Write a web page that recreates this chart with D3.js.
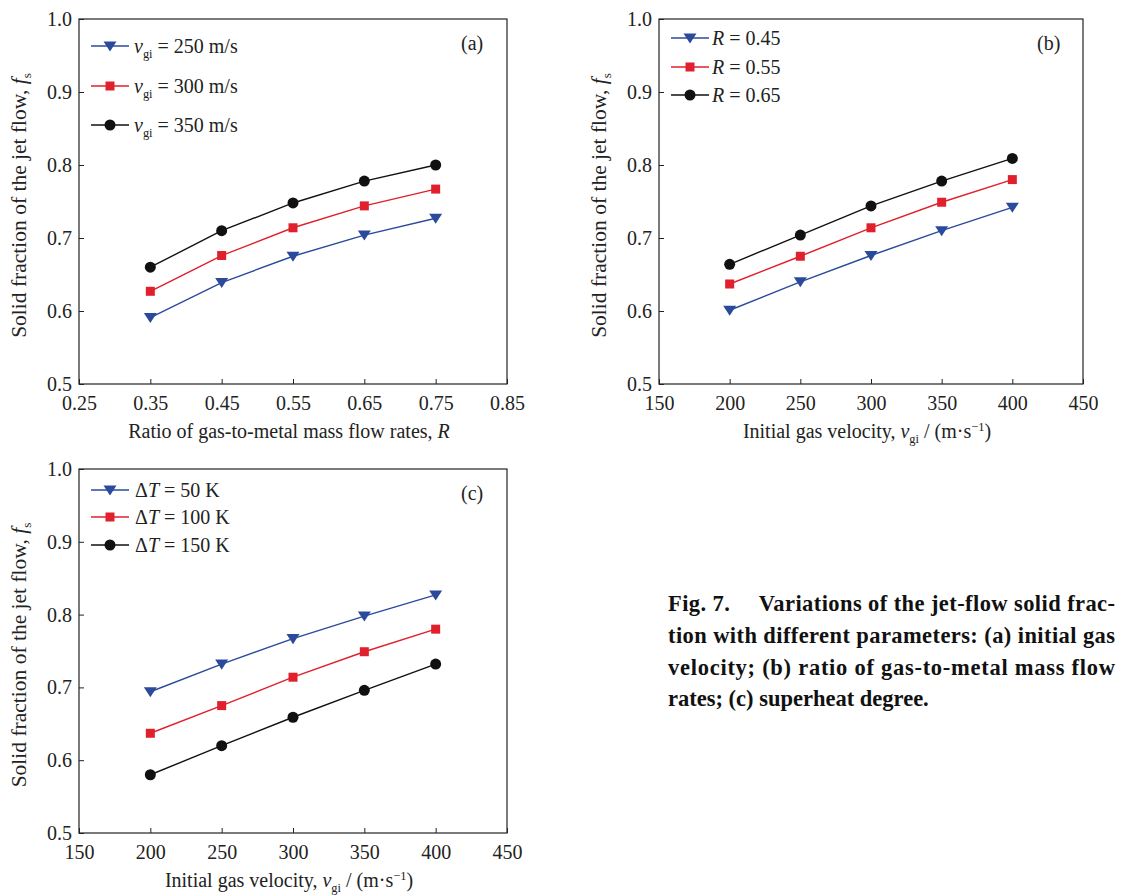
<!DOCTYPE html>
<html><head><meta charset="utf-8">
<script src="https://cdn.jsdelivr.net/npm/d3@7"></script>
<style>body{margin:0;background:#fff}svg{display:block}text{font-family:"Liberation Serif","Times New Roman",serif}</style>
</head><body><svg id="c" width="1146" height="895"></svg>
<script>
// ---- data ----
const xA = [0.35, 0.45, 0.55, 0.65, 0.75];
const aV250 = [0.591, 0.639, 0.675, 0.704, 0.727];
const aV300 = [0.627, 0.676, 0.714, 0.744, 0.767];
const aV350 = [0.660, 0.710, 0.748, 0.778, 0.800];
const xB = [200, 250, 300, 350, 400];
const bR045 = [0.601, 0.640, 0.676, 0.710, 0.742];
const bR055 = [0.637, 0.675, 0.714, 0.749, 0.780];
const bR065 = [0.664, 0.704, 0.744, 0.778, 0.809];
const xC = [200, 250, 300, 350, 400];
const cT50 = [0.694, 0.732, 0.767, 0.798, 0.827];
const cT100 = [0.637, 0.675, 0.714, 0.749, 0.780];
const cT150 = [0.580, 0.620, 0.659, 0.696, 0.732];
const xTicksA = [0.25, 0.35, 0.45, 0.55, 0.65, 0.75, 0.85];
const xTicksB = [150, 200, 250, 300, 350, 400, 450];
const yTicks = [0.5, 0.6, 0.7, 0.8, 0.9, 1.0];

const svg = d3.select("#c");
const BLUE = "#2b4a9c", RED = "#e0202c", BLACK = "#111";

function addLabel(sel, parts, size) {
  parts.forEach(p => {
    const t = sel.append("tspan").text(p.t);
    if (p.i) t.attr("font-style", "italic");
    if (p.sub) t.attr("font-size", size * 0.62).attr("dy", 5);
    if (p.sup) t.attr("font-size", size * 0.62).attr("dy", -7);
    if (p.back) t.attr("dy", p.back);
  });
}

function marker(g, type, x, y, color) {
  if (type === "tri") {
    const s = 6.5;
    g.append("path").attr("d", `M${x - s},${y - s * 0.7}L${x + s},${y - s * 0.7}L${x},${y + s * 0.85}Z`).attr("fill", color);
  } else if (type === "sq") {
    g.append("rect").attr("x", x - 4.5).attr("y", y - 4.5).attr("width", 9).attr("height", 9).attr("fill", color);
  } else {
    g.append("circle").attr("cx", x).attr("cy", y).attr("r", 5.5).attr("fill", color);
  }
}

function panel(cfg) {
  const { left, right, top, bottom } = cfg;
  const x = d3.scaleLinear().domain(cfg.xDomain).range([left, right]);
  const y = d3.scaleLinear().domain([0.5, 1.0]).range([bottom, top]);
  const g = svg.append("g");
  g.append("rect").attr("x", left).attr("y", top).attr("width", right - left).attr("height", bottom - top)
    .attr("fill", "none").attr("stroke", "#222").attr("stroke-width", 1.2);
  const xa = g.append("g").attr("transform", `translate(0,${bottom})`)
    .call(d3.axisTop(x).tickValues(cfg.xTicks).tickSize(5).tickFormat(cfg.xFmt));
  xa.select(".domain").remove();
  xa.selectAll("line").attr("stroke", "#222");
  xa.selectAll("text").attr("y", 12).attr("dy", "0.71em").attr("font-size", 20).attr("fill", "#222");
  const ya = g.append("g").attr("transform", `translate(${left},0)`)
    .call(d3.axisRight(y).tickValues(yTicks).tickSize(5).tickFormat(d3.format(".1f")));
  ya.select(".domain").remove();
  ya.selectAll("line").attr("stroke", "#222");
  ya.selectAll("text").attr("x", -7).attr("text-anchor", "end").attr("font-size", 20).attr("fill", "#222");
  const line = d3.line().x(d => x(d[0])).y(d => y(d[1]));
  cfg.series.forEach(s => {
    const pts = cfg.xs.map((v, i) => [v, s.vals[i]]);
    g.append("path").attr("d", line(pts)).attr("fill", "none").attr("stroke", s.color).attr("stroke-width", 1.4);
    pts.forEach(p => marker(g, s.m, x(p[0]), y(p[1]), s.color));
  });
  cfg.series.forEach((s, i) => {
    const ly = cfg.legY[i];
    g.append("line").attr("x1", left + 12).attr("x2", left + 50).attr("y1", ly).attr("y2", ly)
      .attr("stroke", s.color).attr("stroke-width", 1.4);
    marker(g, s.m, left + 31, ly, s.color);
    const t = g.append("text").attr("x", left + cfg.legTx).attr("y", ly + 7).attr("font-size", 20).attr("fill", "#222");
    addLabel(t, s.label, 20);
  });
  g.append("text").attr("x", right - 46).attr("y", top + 31).attr("font-size", 20).attr("fill", "#222").text(cfg.tag);
  const xt = g.append("text").attr("x", (left + right) / 2 - 4).attr("y", bottom + 54).attr("text-anchor", "middle")
    .attr("font-size", 20).attr("fill", "#222");
  addLabel(xt, cfg.xTitle, 20);
  const yt = g.append("text").attr("transform", `translate(${left - 53},${(top + bottom) / 2 + 4}) rotate(-90)`)
    .attr("text-anchor", "middle").attr("font-size", 21.5).attr("fill", "#222");
  addLabel(yt, [{ t: "Solid fraction of the jet flow, " }, { t: "f", i: 1 }, { t: "s", sub: 1 }], 21.5);
}

const velTitle = [{ t: "Initial gas velocity, " }, { t: "v", i: 1 }, { t: "gi", sub: 1 }, { t: " / (m·s", back: -5 },
  { t: "−1", sup: 1 }, { t: ")", back: 7 }];

panel({
  left: 79, right: 507, top: 19, bottom: 384, xDomain: [0.25, 0.85], xTicks: xTicksA, xFmt: d3.format(".2f"),
  xs: xA, tag: "(a)", legY: [46, 86, 125], legTx: 55,
  xTitle: [{ t: "Ratio of gas-to-metal mass flow rates, " }, { t: "R", i: 1 }],
  series: [
    { vals: aV250, color: BLUE, m: "tri", label: [{ t: "v", i: 1 }, { t: "gi", sub: 1 }, { t: " = 250 m/s", back: -5 }] },
    { vals: aV300, color: RED, m: "sq", label: [{ t: "v", i: 1 }, { t: "gi", sub: 1 }, { t: " = 300 m/s", back: -5 }] },
    { vals: aV350, color: BLACK, m: "circ", label: [{ t: "v", i: 1 }, { t: "gi", sub: 1 }, { t: " = 350 m/s", back: -5 }] }
  ]
});
panel({
  left: 659, right: 1083, top: 19, bottom: 384, xDomain: [150, 450], xTicks: xTicksB, xFmt: d3.format("d"),
  xs: xB, tag: "(b)", legY: [38, 67, 95], legTx: 53, xTitle: velTitle,
  series: [
    { vals: bR045, color: BLUE, m: "tri", label: [{ t: "R", i: 1 }, { t: " = 0.45" }] },
    { vals: bR055, color: RED, m: "sq", label: [{ t: "R", i: 1 }, { t: " = 0.55" }] },
    { vals: bR065, color: BLACK, m: "circ", label: [{ t: "R", i: 1 }, { t: " = 0.65" }] }
  ]
});
panel({
  left: 79, right: 507, top: 469, bottom: 833, xDomain: [150, 450], xTicks: xTicksB, xFmt: d3.format("d"),
  xs: xC, tag: "(c)", legY: [490, 517, 545], legTx: 56, xTitle: velTitle,
  series: [
    { vals: cT50, color: BLUE, m: "tri", label: [{ t: "Δ" }, { t: "T", i: 1 }, { t: " = 50 K" }] },
    { vals: cT100, color: RED, m: "sq", label: [{ t: "Δ" }, { t: "T", i: 1 }, { t: " = 100 K" }] },
    { vals: cT150, color: BLACK, m: "circ", label: [{ t: "Δ" }, { t: "T", i: 1 }, { t: " = 150 K" }] }
  ]
});

// caption
const capLines = [
  "Fig. 7.\u2003 Variations of the jet-flow solid frac-",
  "tion with different parameters: (a) initial gas",
  "velocity; (b) ratio of gas-to-metal mass flow",
  "rates; (c) superheat degree."
];
const capY = [611, 643, 675, 706];
capLines.forEach((l, i) => {
  const t = svg.append("text").attr("x", 668).attr("y", capY[i]).attr("font-size", 22.5)
    .attr("font-weight", "bold").attr("fill", "#111").attr("xml:space", "preserve").text(l);
  if (i < 3) t.attr("textLength", 447).attr("lengthAdjust", "spacing");
});
</script></body></html>
